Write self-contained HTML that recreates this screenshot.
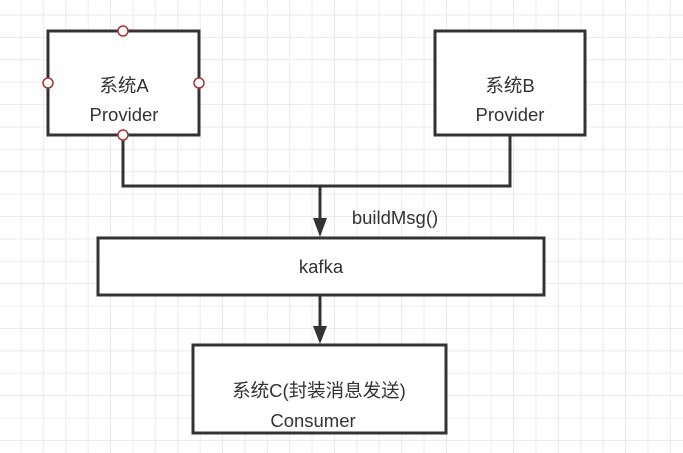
<!DOCTYPE html>
<html><head><style>
body{margin:0;width:683px;height:453px;overflow:hidden;background:#fff;
background-image:linear-gradient(#ebebeb 1px,transparent 1px),linear-gradient(90deg,#ebebeb 1px,transparent 1px);
background-size:22.4px 22.4px;background-position:20.5px 14.5px;}
svg{position:absolute;left:0;top:0}
text{font-family:"Liberation Sans","Noto Sans CJK SC",sans-serif;font-size:18.5px;fill:#333;text-anchor:middle}
</style></head><body>
<svg width="683" height="453">
<g stroke="#333" stroke-width="3" fill="#fff">
<rect x="48" y="31" width="151" height="104"/>
<rect x="435" y="31" width="150" height="104"/>
<rect x="98" y="238" width="446" height="57"/>
<rect x="193" y="345" width="253" height="88"/>
<polyline points="123,135 123,186 510,186 510,135" fill="none"/>
<line x1="320" y1="186" x2="320" y2="222"/>
<line x1="320" y1="295" x2="320" y2="330"/>
</g>
<polygon points="313,218 327,218 320,237" fill="#333"/>
<polygon points="313,326 327,326 320,344" fill="#333"/>
<g fill="#fff" stroke="#a33" stroke-width="1.5">
<circle cx="123" cy="31" r="5"/><circle cx="48" cy="83" r="5"/>
<circle cx="199" cy="83" r="5"/><circle cx="123" cy="135" r="5"/>
</g>
<text x="124" y="92">系统A</text><text x="124" y="121">Provider</text>
<text x="510" y="92">系统B</text><text x="510" y="121">Provider</text>
<text x="321" y="273">kafka</text>
<text x="395" y="224">buildMsg()</text>
<text x="319" y="397">系统C(封装消息发送)</text>
<text x="313" y="427">Consumer</text>
</svg>
</body></html>
